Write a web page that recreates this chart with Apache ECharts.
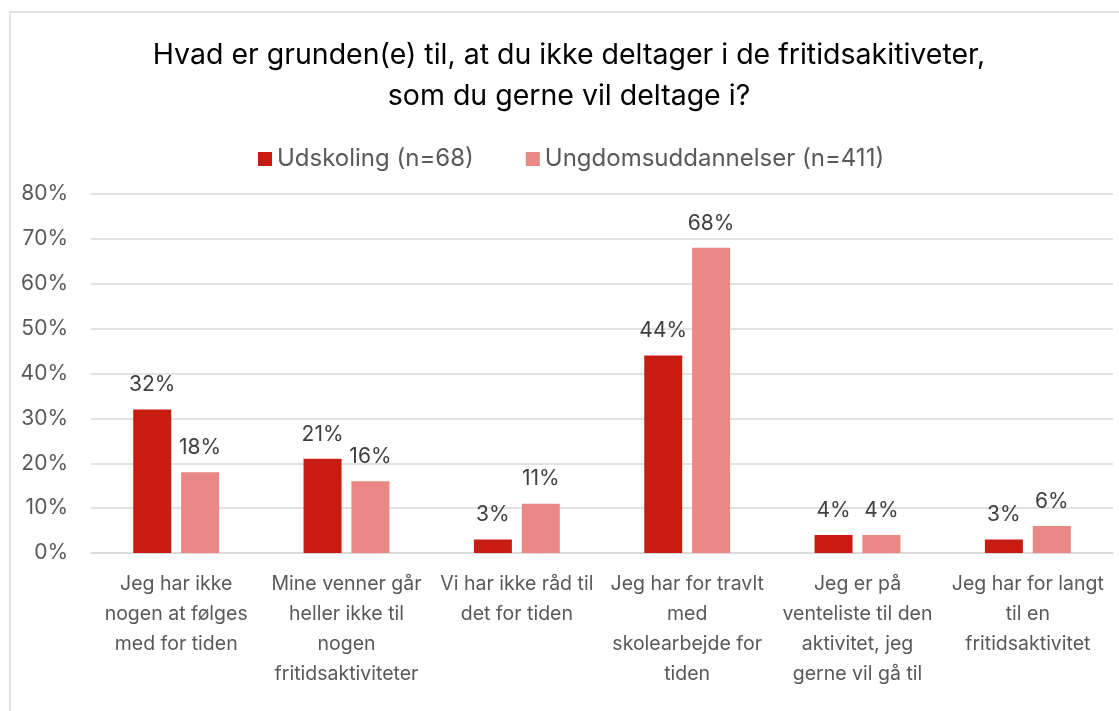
<!DOCTYPE html>
<html>
<head>
<meta charset="utf-8">
<script src="https://cdn.jsdelivr.net/npm/echarts@6/dist/echarts.min.js"></script>
<style>
  html, body { margin: 0; padding: 0; background: #fff; }
  #chart { width: 1119px; height: 711px; }
</style>
</head>
<body>
<div id="chart"></div>
<script>
// Survey answers: reasons for not taking part in leisure activities
const categories = [
  'Jeg har ikke\nnogen at følges\nmed for tiden',
  'Mine venner går\nheller ikke til\nnogen\nfritidsaktiviteter',
  'Vi har ikke råd til\ndet for tiden',
  'Jeg har for travlt\nmed\nskolearbejde for\ntiden',
  'Jeg er på\nventeliste til den\naktivitet, jeg\ngerne vil gå til',
  'Jeg har for langt\ntil en\nfritidsaktivitet'
];
const seriesNames = ['Udskoling (n=68)', 'Ungdomsuddannelser (n=411)'];
const udskoling = [32, 21, 3, 44, 4, 3];
const ungdomsuddannelser = [18, 16, 11, 68, 4, 6];
const yTicks = [0, 10, 20, 30, 40, 50, 60, 70, 80];

const FONT = 'Inter, "Noto Sans", sans-serif';
const chart = echarts.init(document.getElementById('chart'), null, { renderer: 'canvas' });

const labelStyle = {
  show: true,
  position: 'top',
  distance: 14,
  formatter: p => p.value + '%',
  color: '#404040',
  fontSize: 21,
  fontFamily: FONT
};

chart.setOption({
  backgroundColor: '#ffffff',
  animation: false,
  graphic: [{
    type: 'rect',
    shape: { x: 10, y: 12, width: 1130, height: 720 },
    style: { fill: 'none', stroke: '#d9d9d9', lineWidth: 1.5 },
    silent: true
  }],
  title: {
    text: 'Hvad er grunden(e) til, at du ikke deltager i de fritidsakitiveter,\nsom du gerne vil deltage i?',
    left: 564,
    textAlign: 'center',
    top: 30,
    textStyle: {
      color: '#000000',
      fontSize: 28.5,
      fontWeight: 'normal',
      lineHeight: 41,
      fontFamily: FONT
    }
  },
  legend: {
    data: seriesNames,
    top: 142,
    left: 253,
    itemWidth: 14,
    itemHeight: 14,
    itemGap: 52,
    icon: 'rect',
    textStyle: { color: '#595959', fontSize: 24, fontFamily: FONT }
  },
  grid: { left: 91, right: 6, top: 194, bottom: 158, containLabel: false },
  xAxis: {
    type: 'category',
    data: categories,
    axisLine: { show: true, lineStyle: { color: '#d9d9d9', width: 1.5 } },
    axisTick: { show: false },
    axisLabel: {
      interval: 0,
      color: '#595959',
      fontSize: 19.5,
      lineHeight: 30,
      margin: 16,
      fontFamily: FONT
    }
  },
  yAxis: {
    type: 'value',
    min: 0,
    max: 80,
    interval: 10,
    axisLine: { show: false },
    axisTick: { show: false },
    splitLine: { lineStyle: { color: '#d9d9d9', width: 1.5 } },
    axisLabel: {
      color: '#595959',
      fontSize: 21,
      margin: 23,
      fontFamily: FONT,
      formatter: v => (yTicks.indexOf(v) >= 0 ? v + '%' : '')
    }
  },
  series: [
    {
      name: seriesNames[0],
      type: 'bar',
      data: udskoling,
      barWidth: 38,
      barGap: '26%',
      itemStyle: { color: '#c81c11' },
      label: labelStyle
    },
    {
      name: seriesNames[1],
      type: 'bar',
      data: ungdomsuddannelser,
      barWidth: 38,
      itemStyle: { color: '#e98885' },
      label: labelStyle
    }
  ]
});
</script>
</body>
</html>
